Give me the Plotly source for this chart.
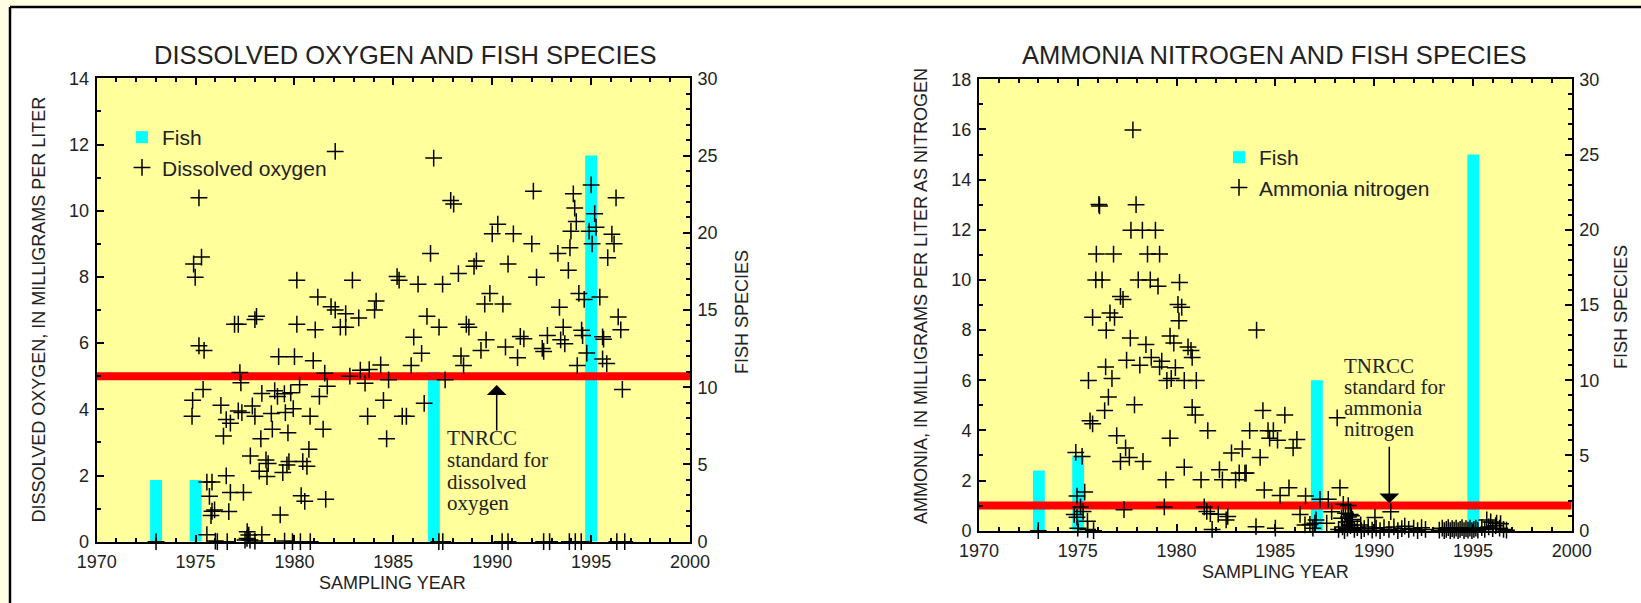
import plotly.graph_objects as go

W, H = 1641, 603

# ---------------- data ----------------
fish_years_do = [1973.0, 1975.0, 1987.05, 1995.0]
fish_species_do = [4, 4, 11, 25]

fish_years_nh = [1973.03, 1975.02, 1987.1, 1995.02]
fish_species_nh = [4, 5, 10, 25]

DO_STANDARD = 5.0
NH_STANDARD = 1.0
YEAR_MIN, YEAR_MAX = 1970, 2000

do_year = [
    1982.06, 1987.04, 1975.17, 1992.08, 1987.90, 1988.05, 1995.00, 1994.10, 1996.26, 1994.17,
    1994.25, 1995.18, 1990.28, 1990.00, 1991.07, 1993.98, 1994.90, 1995.25, 1996.05, 1992.00,
    1995.05, 1996.16, 1993.32, 1993.93, 1995.84, 1974.90, 1975.30, 1974.98, 1986.88, 1989.20,
    1989.08, 1990.80, 1993.85, 1992.24, 1988.29, 1980.12, 1982.93, 1985.19, 1985.29, 1986.25,
    1987.49, 1989.88, 1989.62, 1990.54, 1994.38, 1994.65, 1995.44, 1993.40, 1981.18, 1981.85,
    1982.06, 1982.59, 1984.13, 1984.05, 1983.25, 1978.08, 1978.00, 1976.97, 1977.16, 1980.12,
    1981.05, 1982.32, 1982.59, 1986.70, 1987.31, 1988.69, 1988.82, 1993.59, 1994.52, 1996.37,
    1996.50, 1986.03, 1991.42, 1991.60, 1992.79, 1989.69, 1993.46, 1993.67, 1994.57, 1995.58,
    1995.63, 1975.17, 1975.43, 1979.20, 1980.00, 1980.95, 1986.43, 1989.43, 1988.42, 1990.67,
    1992.53, 1992.60, 1991.28, 1994.78, 1995.58, 1995.79, 1985.90, 1988.55, 1994.30, 1983.78,
    1983.33, 1984.36, 1977.24, 1981.53, 1982.80, 1977.29, 1981.66, 1980.26, 1983.57, 1984.76,
    1987.62, 1975.38, 1996.58, 1978.35, 1979.00, 1979.14, 1979.49, 1979.81, 1974.85, 1976.28,
    1977.16, 1977.87, 1979.94, 1981.26, 1984.50, 1986.56, 1974.82, 1976.55, 1976.76, 1977.34,
    1978.00, 1978.83, 1979.54, 1980.79, 1983.70, 1985.45, 1985.66, 1976.41, 1978.30, 1978.88,
    1979.67, 1981.45, 1984.66, 1980.73, 1977.77, 1978.56, 1978.67, 1979.62, 1979.72, 1980.42,
    1980.63, 1978.22, 1978.61, 1979.41, 1976.55, 1975.57, 1975.83, 1975.70, 1976.76, 1977.42,
    1980.34, 1980.52, 1981.58, 1975.96, 1975.78, 1975.83, 1976.68, 1979.28, 1975.57, 1977.61,
    1977.69, 1978.35, 1973.00, 1976.00, 1976.10, 1976.60, 1977.50, 1977.60, 1977.75, 1978.00,
    1979.50, 1979.90, 1980.30, 1980.80, 1987.30, 1987.50, 1990.50, 1990.80, 1992.60, 1992.90,
    1993.90, 1994.20, 1994.50, 1996.30, 1996.70,
]
do_val = [
    11.79, 11.59, 10.39, 10.59, 10.31, 10.20, 10.78, 10.51, 10.39, 10.08,
    9.67, 9.91, 9.59, 9.30, 9.30, 9.38, 9.38, 9.50, 9.29, 9.00,
    9.00, 9.00, 8.71, 8.88, 8.58, 8.39, 8.60, 7.99, 8.71, 8.48,
    8.32, 8.39, 8.20, 7.99, 8.10, 7.90, 7.90, 8.01, 7.90, 7.78,
    7.78, 7.50, 7.18, 7.18, 7.50, 7.32, 7.39, 7.08, 7.39, 7.10,
    7.00, 6.89, 7.27, 7.00, 6.76, 6.81, 6.71, 6.57, 6.57, 6.57,
    6.40, 6.48, 6.48, 6.81, 6.48, 6.57, 6.48, 6.48, 6.39, 6.79,
    6.40, 6.18, 6.20, 6.13, 6.23, 6.10, 6.10, 5.98, 6.23, 6.19,
    6.12, 5.92, 5.78, 5.59, 5.59, 5.47, 5.69, 5.78, 5.61, 5.88,
    5.84, 5.75, 5.56, 5.70, 5.52, 5.38, 5.32, 5.32, 5.32, 5.20,
    5.18, 5.34, 5.11, 5.09, 5.00, 4.80, 4.70, 4.74, 4.79, 4.89,
    4.89, 4.60, 4.60, 4.48, 4.56, 4.39, 4.47, 4.50, 4.27, 4.12,
    3.95, 4.10, 4.02, 4.39, 4.27, 4.18, 3.79, 3.69, 3.58, 3.90,
    3.79, 3.87, 3.90, 3.79, 3.79, 3.79, 3.79, 3.19, 3.11, 3.40,
    3.29, 3.40, 3.11, 2.79, 2.59, 2.47, 2.36, 2.32, 2.42, 2.42,
    2.28, 2.13, 1.97, 2.09, 1.99, 1.80, 1.80, 1.37, 1.49, 1.49,
    1.39, 1.22, 1.28, 0.96, 0.79, 0.92, 0.91, 0.81, 0.21, 0.30,
    0.20, 0.21, 0.00, 0.02, 0.00, 0.00, 0.05, 0.10, 0.05, 0.02,
    0.02, 0.00, 0.00, 0.00, 0.00, 0.00, 0.00, 0.00, 0.00, 0.00,
    0.00, 0.00, 0.00, 0.00, 0.00,
]

nh_year = [
    1977.79, 1976.07, 1976.10, 1977.95, 1975.94, 1976.81, 1977.69, 1978.27, 1978.93, 1978.53,
    1979.14, 1975.91, 1976.23, 1978.06, 1978.67, 1979.06, 1980.15, 1977.16, 1977.29, 1980.07,
    1980.26, 1975.75, 1976.63, 1976.86, 1980.12, 1984.05, 1976.44, 1977.66, 1979.67, 1979.86,
    1978.45, 1980.58, 1980.73, 1980.79, 1977.47, 1978.72, 1976.41, 1978.14, 1979.25, 1979.14,
    1979.94, 1976.73, 1975.54, 1979.51, 1979.73, 1980.39, 1981.00, 1976.55, 1976.36, 1977.87,
    1980.79, 1980.95, 1984.37, 1985.48, 1988.13, 1975.62, 1975.75, 1976.97, 1981.58, 1983.70,
    1984.63, 1984.90, 1984.71, 1985.11, 1986.09, 1985.90, 1979.67, 1977.42, 1974.90, 1975.22,
    1983.33, 1982.78, 1984.23, 1983.46, 1977.16, 1977.61, 1978.30, 1980.39, 1982.17, 1982.32,
    1982.99, 1983.17, 1983.52, 1979.46, 1981.24, 1984.44, 1985.24, 1985.69, 1986.53, 1988.27,
    1974.96, 1975.35, 1987.26, 1987.68, 1975.14, 1977.34, 1979.38, 1981.40, 1981.53, 1981.71,
    1982.11, 1982.59, 1982.51, 1974.96, 1974.82, 1975.27, 1975.49, 1986.25, 1987.85, 1988.44,
    1988.69, 1990.84, 1990.04, 1988.79, 1988.87, 1987.06, 1987.00, 1986.75, 1987.60, 1989.32,
    1986.50, 1988.35, 1988.55, 1988.70, 1988.85, 1988.60, 1988.75, 1988.90, 1995.70, 1996.20,
    1995.90, 1996.40, 1973.00, 1975.00, 1975.50, 1975.80, 1981.80, 1984.02, 1985.00, 1986.90,
    1988.20, 1988.40, 1988.50, 1988.65, 1988.80, 1989.00, 1989.15, 1989.35, 1989.50, 1989.70,
    1989.90, 1990.10, 1990.30, 1990.50, 1990.75, 1991.00, 1991.20, 1991.40, 1991.55, 1991.75,
    1992.00, 1992.20, 1992.40, 1992.60, 1993.30, 1993.45, 1993.55, 1993.65, 1993.75, 1993.85,
    1993.95, 1994.05, 1994.15, 1994.25, 1994.35, 1994.45, 1994.55, 1994.65, 1994.75, 1994.85,
    1994.95, 1995.05, 1995.15, 1995.25, 1995.45, 1995.60, 1995.80, 1996.00, 1996.15, 1996.35,
    1996.55, 1996.70,
]
nh_val = [
    15.98, 13.01, 12.95, 13.00, 11.03, 11.03, 11.98, 11.98, 11.98, 11.03,
    11.03, 10.00, 10.00, 10.00, 10.00, 9.75, 9.90, 9.34, 9.22, 9.02,
    8.91, 8.51, 8.68, 8.51, 8.37, 8.00, 7.99, 7.68, 7.76, 7.48,
    7.42, 7.33, 7.19, 6.91, 6.80, 6.91, 6.53, 6.60, 6.76, 6.53,
    6.50, 6.07, 5.99, 5.99, 6.07, 5.99, 5.99, 5.33, 4.79, 5.02,
    4.92, 4.61, 4.79, 4.61, 4.50, 4.38, 4.26, 3.79, 3.99, 3.99,
    3.99, 3.99, 3.69, 3.61, 3.64, 3.30, 3.69, 3.30, 3.12, 2.96,
    3.26, 3.10, 2.92, 2.29, 2.76, 2.92, 2.76, 2.53, 2.43, 2.03,
    2.03, 2.30, 2.30, 2.03, 2.03, 1.62, 1.40, 1.71, 1.38, 1.71,
    1.38, 1.54, 1.25, 1.25, 0.95, 0.84, 0.95, 0.95, 0.77, 0.68,
    0.66, 0.57, 0.43, 0.54, 0.65, 0.77, 0.38, 0.65, 0.76, 1.05,
    1.00, 0.76, 0.53, 0.65, 0.38, 0.43, 0.30, 0.25, 0.30, 0.23,
    0.23, 0.50, 0.70, 0.55, 0.60, 0.35, 0.25, 0.45, 0.43, 0.30,
    0.35, 0.28, 0.00, 0.10, 0.05, 0.00, 0.05, 0.16, 0.10, 0.10,
    0.05, 0.15, 0.00, 0.10, 0.20, 0.05, 0.12, 0.00, 0.08, 0.15,
    0.02, 0.10, 0.00, 0.12, 0.05, 0.15, 0.00, 0.08, 0.18, 0.05,
    0.10, 0.00, 0.12, 0.05, 0.02, 0.10, 0.00, 0.05, 0.12, 0.00,
    0.08, 0.02, 0.10, 0.00, 0.05, 0.12, 0.00, 0.08, 0.02, 0.10,
    0.00, 0.05, 0.10, 0.02, 0.12, 0.05, 0.15, 0.08, 0.20, 0.10,
    0.05, 0.02,
]

# ---------------- helpers ----------------
def px(x):
    return x / W


def py(y):
    return 1 - y / H


FONT = "Liberation Sans, Arial, sans-serif"
SERIF = "Liberation Serif, Times New Roman, serif"
TXT = "#222222"
CYAN = "#00FFFF"
RED = "#FF0000"
PLOT_BG = "#FFFF9C"

marker_style = dict(symbol="cross-thin", size=12, color="black",
                    line=dict(color="black", width=1.5))

fig = go.Figure()

# ---- left chart ----
fig.add_trace(go.Bar(x=fish_years_do, y=fish_species_do, width=0.6, name="Fish",
                     marker=dict(color=CYAN, line=dict(width=0)),
                     xaxis="x", yaxis="y", legend="legend"))
fig.add_trace(go.Scatter(x=[YEAR_MIN, YEAR_MAX], y=[DO_STANDARD, DO_STANDARD], mode="lines",
                         line=dict(color=RED, width=8), showlegend=False,
                         xaxis="x", yaxis="y2", hoverinfo="skip"))
fig.add_trace(go.Scatter(x=do_year, y=do_val, mode="markers", name="Dissolved oxygen",
                         marker=marker_style, cliponaxis=False,
                         xaxis="x", yaxis="y2", legend="legend"))

# ---- right chart ----
fig.add_trace(go.Bar(x=fish_years_nh, y=fish_species_nh, width=0.6, name="Fish",
                     marker=dict(color=CYAN, line=dict(width=0)),
                     xaxis="x2", yaxis="y3", legend="legend2"))
fig.add_trace(go.Scatter(x=[YEAR_MIN, YEAR_MAX], y=[NH_STANDARD, NH_STANDARD], mode="lines",
                         line=dict(color=RED, width=8), showlegend=False,
                         xaxis="x2", yaxis="y4", hoverinfo="skip"))
fig.add_trace(go.Scatter(x=nh_year, y=nh_val, mode="markers", name="Ammonia nitrogen",
                         marker=marker_style, cliponaxis=False,
                         xaxis="x2", yaxis="y4", legend="legend2"))

tickfont = dict(family=FONT, size=18, color=TXT)
common = dict(ticks="inside", ticklen=7, tickwidth=1.5, tickcolor="black",
              minor=dict(dtick=1, ticks="inside", ticklen=4, tickwidth=1.5, tickcolor="black"),
              showline=True, linecolor="black", linewidth=2,
              showgrid=False, zeroline=False, tickfont=tickfont, automargin=False)


def xaxis_cfg(domain, anchor):
    return dict(domain=domain, anchor=anchor, range=[YEAR_MIN, YEAR_MAX], tick0=1970, dtick=5,
                mirror="ticks", ticklabelstandoff=3, **common)


def fish_axis_cfg(domain, anchor):
    return dict(domain=domain, anchor=anchor, side="right", range=[0, 30], tick0=0, dtick=5,
                ticklabelstandoff=2, **common)


def val_axis_cfg(over, anchor, top, dt):
    return dict(overlaying=over, anchor=anchor, side="left", range=[0, top], tick0=0, dtick=dt,
                ticklabelstandoff=2, **common)


L_X = [px(96.7), px(690)]
L_Y = [py(541.7), py(78.3)]
R_X = [px(979), px(1571.7)]
R_Y = [py(530.7), py(79.3)]

annotations = []


def add_text(text, x, y, size, family=FONT, angle=0, xanchor="center"):
    annotations.append(dict(text=text, x=px(x), y=py(y), xref="paper", yref="paper",
                            showarrow=False, xanchor=xanchor, yanchor="middle",
                            textangle=angle, font=dict(family=family, size=size, color=TXT)))


# titles
add_text("DISSOLVED OXYGEN AND FISH SPECIES", 405, 55, 25.5)
add_text("AMMONIA NITROGEN AND FISH SPECIES", 1274, 55, 25.5)
# axis titles
add_text("SAMPLING YEAR", 392, 583, 18)
add_text("SAMPLING YEAR", 1275, 571.5, 18)
add_text("DISSOLVED OXYGEN, IN MILLIGRAMS PER LITER", 38.5, 310, 18, angle=-90)
add_text("AMMONIA, IN MILLIGRAMS PER LITER AS NITROGEN", 921, 296, 18, angle=-90)
add_text("FISH SPECIES", 742, 312, 18, angle=-90)
add_text("FISH SPECIES", 1621, 307, 18, angle=-90)

# TNRCC notes
for txt, yy in zip(["TNRCC", "standard for", "dissolved", "oxygen"], [438, 460, 481.7, 503]):
    add_text(txt, 445, yy, 21, family=SERIF, xanchor="left")
for txt, yy in zip(["TNRCC", "standard for", "ammonia", "nitrogen"], [366, 387, 408, 429]):
    add_text(txt, 1342, yy, 21, family=SERIF, xanchor="left")

# arrows
annotations.append(dict(text="", x=px(496.7), y=py(385), xref="paper", yref="paper",
                        ax=0, ay=47, showarrow=True, arrowhead=1, arrowsize=2.2,
                        arrowwidth=1.5, arrowcolor="black", standoff=0))
annotations.append(dict(text="", x=px(1389.3), y=py(503.3), xref="paper", yref="paper",
                        ax=0, ay=-58, showarrow=True, arrowhead=1, arrowsize=2.2,
                        arrowwidth=1.5, arrowcolor="black", standoff=0))

shapes = [
    dict(type="rect", xref="paper", yref="paper", x0=0, x1=1, y0=py(7), y1=1,
         fillcolor="#FFFDE4", line=dict(width=0), layer="below"),
    dict(type="rect", xref="paper", yref="paper", x0=0, x1=px(10), y0=0, y1=1,
         fillcolor="#FFFDE4", line=dict(width=0), layer="below"),
    dict(type="line", xref="paper", yref="paper", x0=px(10), x1=1, y0=py(7), y1=py(7),
         line=dict(color="black", width=2.5)),
    dict(type="line", xref="paper", yref="paper", x0=px(10), x1=px(10), y0=0, y1=py(7),
         line=dict(color="black", width=2.5)),
]

legend_font = dict(family=FONT, size=21, color=TXT)

fig.update_layout(
    width=W, height=H, autosize=False,
    margin=dict(l=0, r=0, t=0, b=0, pad=0, autoexpand=False),
    paper_bgcolor="white", plot_bgcolor=PLOT_BG,
    barmode="overlay",
    xaxis=xaxis_cfg(L_X, "y"),
    yaxis=fish_axis_cfg(L_Y, "x"),
    yaxis2=val_axis_cfg("y", "x", 14, 2),
    xaxis2=xaxis_cfg(R_X, "y3"),
    yaxis3=fish_axis_cfg(R_Y, "x2"),
    yaxis4=val_axis_cfg("y3", "x2", 18, 2),
    legend=dict(x=px(122), y=py(117), xanchor="left", yanchor="top",
                bgcolor="rgba(0,0,0,0)", font=legend_font, tracegroupgap=0),
    legend2=dict(x=px(1219), y=py(137), xanchor="left", yanchor="top",
                 bgcolor="rgba(0,0,0,0)", font=legend_font, tracegroupgap=0),
    annotations=annotations,
    shapes=shapes,
    showlegend=True,
)

fig.write_html("out.html",
               config={"displayModeBar": False},
               post_script="document.body.style.margin='0px';document.body.style.padding='0px';")
